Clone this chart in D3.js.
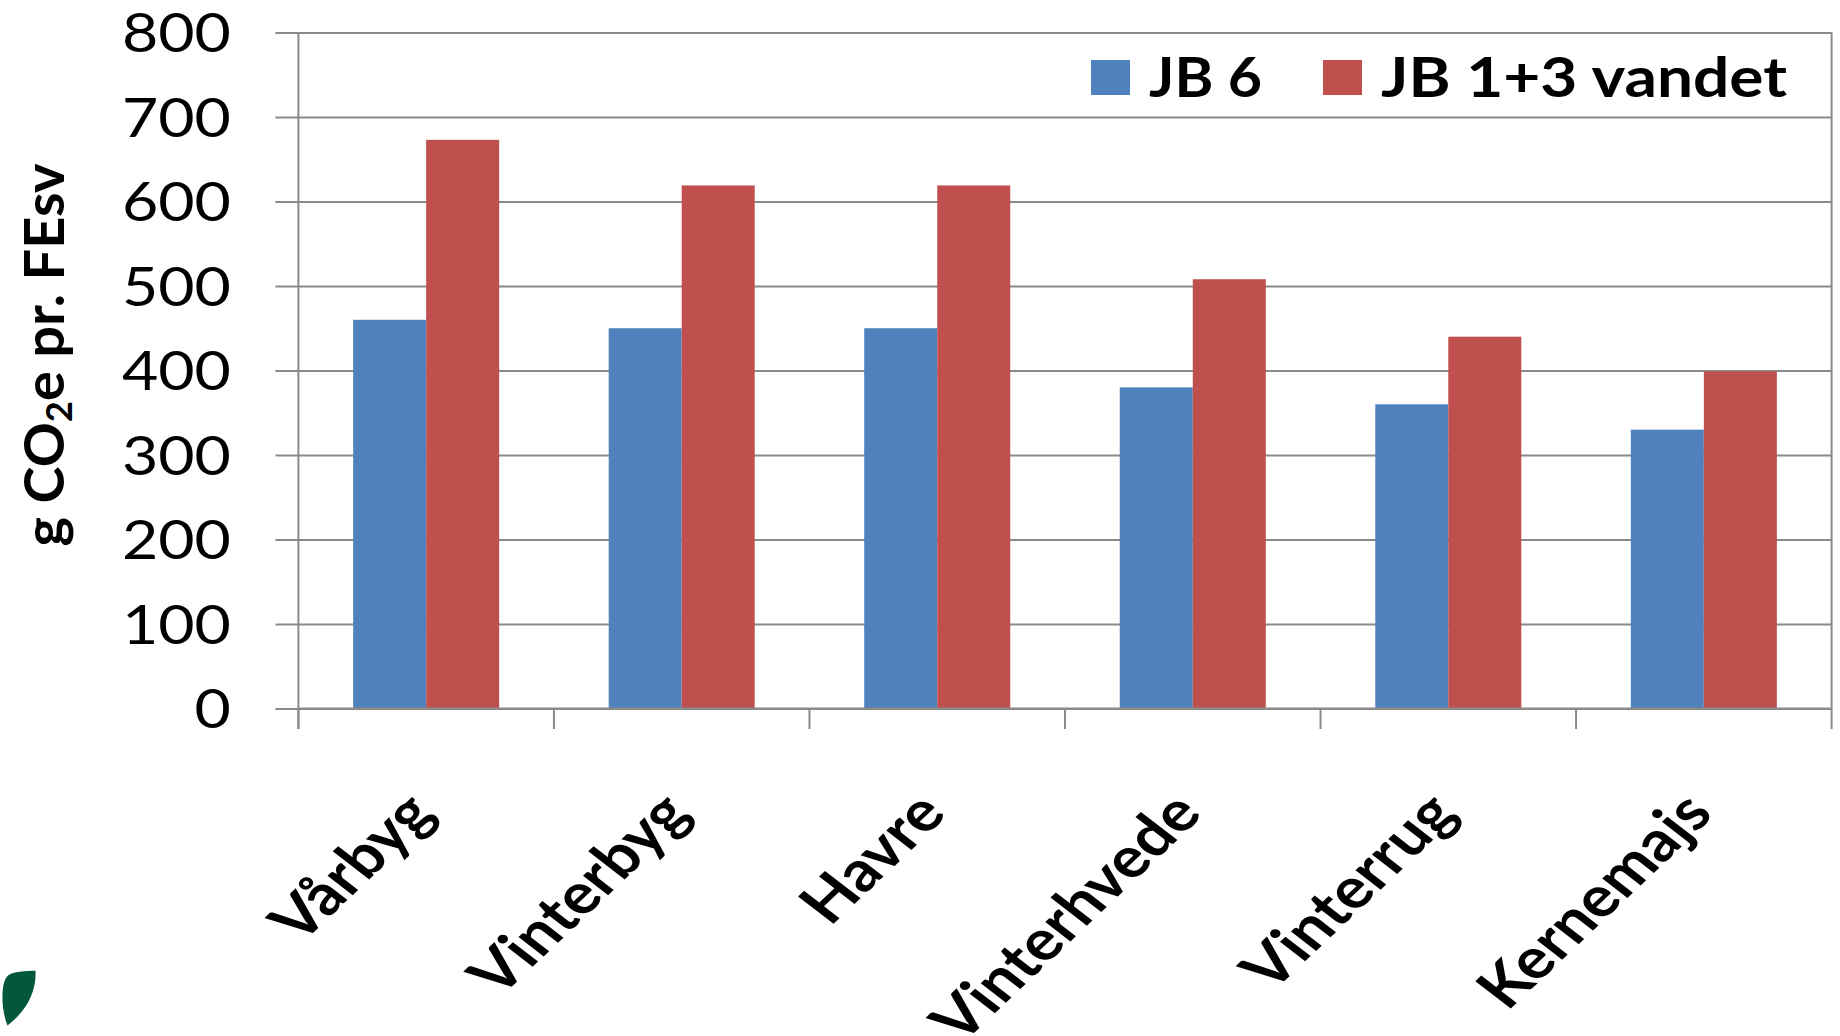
<!DOCTYPE html>
<html>
<head>
<meta charset="utf-8">
<script src="https://cdn.jsdelivr.net/npm/d3@7"></script>
<style>
  html, body { margin: 0; padding: 0; background: #ffffff; }
  svg { display: block; }
</style>
</head>
<body>
<svg id="chart" width="1840" height="1036"></svg>
<script>
// ---- data ----
const categories = ["Vårbyg", "Vinterbyg", "Havre", "Vinterhvede", "Vinterrug", "Kernemajs"];
const seriesNames = ["JB 6", "JB 1+3 vandet"];
const jb6 = [460, 450, 450, 380, 360, 330];
const jb13Vandet = [673, 619, 619, 508, 440, 399];
const yTicks = [0, 100, 200, 300, 400, 500, 600, 700, 800];
const seriesColors = ["#4F81BD", "#C0504D"];

// ---- layout ----
const plot = { left: 298.4, right: 1831.6, top: 32.5, bottom: 708.5 };
const SX = 1.17;                 // horizontal stretch applied to all text
const FONT = "Lato, 'Open Sans', sans-serif";
const GRID = "#8a8a8a";

const svg = d3.select("#chart");

const x = d3.scaleBand().domain(categories).range([plot.left, plot.right]).paddingInner(0).paddingOuter(0);
const xs = d3.scaleBand().domain(seriesNames).range([0, x.bandwidth()]).paddingInner(0).paddingOuter(0.75);
const y = d3.scaleLinear().domain([0, 800]).range([plot.bottom, plot.top]);

// horizontal gridlines
const gGrid = svg.append("g")
  .attr("transform", `translate(${plot.left},0)`)
  .call(d3.axisLeft(y).tickValues(yTicks).tickSize(-(plot.right - plot.left)).tickFormat(""));
gGrid.select(".domain").remove();
gGrid.selectAll("line").attr("stroke", GRID).attr("stroke-width", 2);

// right frame line
svg.append("line")
  .attr("x1", plot.right).attr("x2", plot.right)
  .attr("y1", plot.top).attr("y2", plot.bottom)
  .attr("stroke", GRID).attr("stroke-width", 2);

// bars
const rows = categories.map((c, i) => ({
  cat: c,
  values: [{ s: seriesNames[0], v: jb6[i], k: 0 }, { s: seriesNames[1], v: jb13Vandet[i], k: 1 }]
}));
svg.append("g").selectAll("g").data(rows).join("g")
  .attr("transform", d => `translate(${x(d.cat)},0)`)
  .selectAll("rect").data(d => d.values).join("rect")
  .attr("x", d => xs(d.s))
  .attr("width", xs.bandwidth())
  .attr("y", d => y(d.v))
  .attr("height", d => y(0) - y(d.v))
  .attr("fill", d => seriesColors[d.k]);

// x axis: baseline + boundary ticks
const boundaries = categories.map(c => x(c)).concat([plot.right]);
const gx = svg.append("g");
gx.append("line")
  .attr("x1", plot.left).attr("x2", plot.right)
  .attr("y1", y(0)).attr("y2", y(0))
  .attr("stroke", GRID).attr("stroke-width", 2);
gx.selectAll("line.tick").data(boundaries).join("line")
  .attr("class", "tick")
  .attr("x1", d => d).attr("x2", d => d)
  .attr("y1", y(0)).attr("y2", y(0) + 20.5)
  .attr("stroke", GRID).attr("stroke-width", 2);

// category labels, rotated
gx.selectAll("text").data(categories).join("text")
  .attr("transform", d => `translate(${x(d) + x.bandwidth() / 2 + 11},815) scale(${SX},1) rotate(-48)`)
  .attr("text-anchor", "end")
  .attr("font-family", FONT)
  .attr("font-weight", 700)
  .attr("font-size", 56.5)
  .attr("fill", "#000")
  .text(d => d);

// y axis
const gy = svg.append("g")
  .attr("transform", `translate(${plot.left},0)`)
  .call(d3.axisLeft(y).tickValues(yTicks).tickSize(23).tickSizeOuter(0).tickPadding(0).tickFormat(d3.format("d")));
gy.select(".domain").remove();
gy.append("line")
  .attr("x1", 0).attr("x2", 0)
  .attr("y1", plot.top).attr("y2", y(0) + 20.5)
  .attr("stroke", GRID).attr("stroke-width", 2);
gy.selectAll(".tick line").attr("stroke", GRID).attr("stroke-width", 2);
gy.attr("font-family", FONT).attr("font-size", 53.5);
gy.selectAll(".tick text")
  .attr("x", null).attr("dy", null)
  .attr("transform", `translate(-67.5,19.3) scale(${SX},1)`)
  .attr("text-anchor", "end")
  .attr("fill", "#000");

// y axis title
const title = svg.append("text")
  .attr("transform", `translate(64,355) scale(${SX},1) rotate(-90)`)
  .attr("text-anchor", "middle")
  .attr("font-family", FONT)
  .attr("font-weight", 700)
  .attr("font-size", 47)
  .attr("fill", "#000")
  .attr("textLength", 383)
  .attr("lengthAdjust", "spacingAndGlyphs");
title.append("tspan").text("g CO");
title.append("tspan").attr("font-size", "0.65em").attr("dy", "0.22em").text("2");
title.append("tspan").attr("dy", "-0.14em").text("e pr. FEsv");

// legend
const legendItems = [
  { name: seriesNames[0], k: 0, sx: 1091, tx: 1149, tw: 113 },
  { name: seriesNames[1], k: 1, sx: 1323, tx: 1381, tw: 406 }
];
const gl = svg.append("g");
gl.selectAll("rect").data(legendItems).join("rect")
  .attr("x", d => d.sx).attr("y", 60)
  .attr("width", 39).attr("height", 35)
  .attr("fill", d => seriesColors[d.k]);
gl.selectAll("text").data(legendItems).join("text")
  .attr("x", d => d.tx).attr("y", 96.5)
  .attr("font-family", FONT)
  .attr("font-weight", 700)
  .attr("font-size", 55)
  .attr("fill", "#000")
  .attr("textLength", d => d.tw)
  .attr("lengthAdjust", "spacingAndGlyphs")
  .text(d => d.name);

// leaf emblem, lower left corner
svg.append("path")
  .attr("d", "M11.5,973.5 C18,971.5 28,970.5 35.5,970.8 C36.5,990 28,1010 7.5,1025.5 C2,1012 1.5,995 3.5,985 C5,978 7.5,975 11.5,973.5 Z")
  .attr("fill", "#03573A");
</script>
</body>
</html>
